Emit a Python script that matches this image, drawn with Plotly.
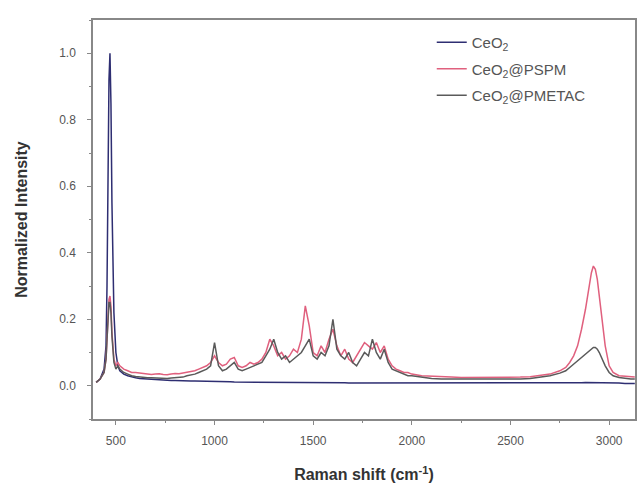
import plotly.graph_objects as go

wavenumber = [400, 420, 440, 450, 455, 460, 465, 470, 475, 480, 490, 500, 510, 520, 540, 560, 580, 600,
              620, 640, 660, 680, 700, 720, 740, 760, 780, 800,
              820, 840, 860, 880, 900, 920, 940, 960, 980, 1000,
              1020, 1040, 1060, 1080, 1100, 1120, 1140, 1160, 1180, 1200,
              1220, 1240, 1260, 1280, 1300, 1320, 1340, 1360, 1380, 1400,
              1420, 1440, 1460, 1480, 1500, 1520, 1540, 1560, 1580, 1600,
              1620, 1640, 1660, 1680, 1700, 1720, 1740, 1760, 1780, 1800,
              1820, 1840, 1860, 1880, 1900, 1920, 1940, 1960, 1980, 2000,
              2050, 2100, 2150, 2200, 2250, 2300, 2350, 2400, 2450, 2500, 2550, 2600, 2650, 2700, 2750,
              2780, 2800, 2820, 2840, 2860, 2880, 2900, 2910, 2920, 2930, 2940, 2950, 2960, 2980, 3000,
              3020, 3050, 3080, 3110, 3130]

ceo2 = [0.01, 0.02, 0.05, 0.12, 0.30, 0.62, 0.92, 1.00, 0.85, 0.55, 0.22, 0.10, 0.06, 0.045, 0.035, 0.03, 0.026, 0.024,
        0.022, 0.021, 0.020, 0.019, 0.018, 0.018, 0.017, 0.017, 0.016, 0.016,
        0.015, 0.015, 0.015, 0.014, 0.014, 0.014, 0.013, 0.013, 0.013, 0.013,
        0.012, 0.012, 0.012, 0.012, 0.011, 0.011, 0.011, 0.011, 0.011, 0.011,
        0.011, 0.010, 0.010, 0.010, 0.010, 0.010, 0.010, 0.010, 0.010, 0.010,
        0.010, 0.010, 0.009, 0.009, 0.009, 0.009, 0.009, 0.009, 0.009, 0.009,
        0.009, 0.009, 0.009, 0.008, 0.008, 0.008, 0.008, 0.008, 0.008, 0.008,
        0.008, 0.008, 0.008, 0.008, 0.008, 0.008, 0.007, 0.007, 0.007, 0.007,
        0.007, 0.007, 0.007, 0.007, 0.007, 0.007, 0.007, 0.007, 0.007, 0.007, 0.007, 0.007, 0.007, 0.008, 0.008,
        0.008, 0.008, 0.009, 0.009, 0.009, 0.010, 0.010, 0.010, 0.010, 0.010, 0.010, 0.010, 0.009, 0.009, 0.008,
        0.008, 0.008, 0.007, 0.007, 0.007]

ceo2_pspm = [0.01, 0.02, 0.04, 0.08, 0.14, 0.22, 0.26, 0.27, 0.24, 0.16, 0.08, 0.06, 0.07, 0.06, 0.05, 0.045, 0.04, 0.04,
             0.038, 0.036, 0.035, 0.034, 0.035, 0.036, 0.034, 0.033, 0.035, 0.037,
             0.036, 0.038, 0.040, 0.042, 0.045, 0.050, 0.055, 0.060, 0.070, 0.090,
             0.070, 0.060, 0.065, 0.080, 0.085, 0.060, 0.055, 0.060, 0.070, 0.065,
             0.070, 0.080, 0.100, 0.140, 0.120, 0.090, 0.100, 0.080, 0.090, 0.110,
             0.100, 0.140, 0.240, 0.180, 0.100, 0.090, 0.120, 0.100, 0.140, 0.170,
             0.120, 0.090, 0.110, 0.080, 0.070, 0.090, 0.110, 0.130, 0.120, 0.110,
             0.130, 0.100, 0.120, 0.080, 0.060, 0.050, 0.045, 0.040, 0.040, 0.035,
             0.030, 0.028, 0.027, 0.026, 0.025, 0.025, 0.024, 0.024, 0.024, 0.025, 0.026, 0.027, 0.030, 0.035, 0.045,
             0.055, 0.070, 0.090, 0.120, 0.170, 0.230, 0.300, 0.340, 0.360, 0.350, 0.320, 0.270, 0.210, 0.120, 0.060,
             0.040, 0.030, 0.028, 0.027, 0.026]

ceo2_pmetac = [0.01, 0.02, 0.04, 0.08, 0.14, 0.21, 0.25, 0.25, 0.22, 0.15, 0.07, 0.05, 0.06, 0.05, 0.04, 0.035, 0.03, 0.028,
               0.026, 0.025, 0.024, 0.024, 0.023, 0.023, 0.022, 0.022, 0.023, 0.024,
               0.025, 0.026, 0.030, 0.032, 0.035, 0.040, 0.045, 0.050, 0.060, 0.130,
               0.060, 0.045, 0.050, 0.060, 0.070, 0.050, 0.045, 0.050, 0.055, 0.060,
               0.065, 0.070, 0.090, 0.110, 0.140, 0.100, 0.080, 0.090, 0.070, 0.080,
               0.090, 0.100, 0.120, 0.140, 0.090, 0.080, 0.100, 0.090, 0.120, 0.200,
               0.110, 0.090, 0.080, 0.100, 0.070, 0.060, 0.080, 0.100, 0.090, 0.140,
               0.100, 0.080, 0.110, 0.070, 0.050, 0.045, 0.040, 0.035, 0.030, 0.030,
               0.025, 0.022, 0.020, 0.020, 0.019, 0.018, 0.018, 0.018, 0.018, 0.019, 0.020, 0.022, 0.025, 0.030, 0.038,
               0.045, 0.055, 0.065, 0.075, 0.085, 0.095, 0.105, 0.110, 0.115, 0.115, 0.110, 0.100, 0.085, 0.060, 0.040,
               0.030, 0.025, 0.022, 0.020, 0.020]

series_names = ["CeO<sub>2</sub>", "CeO<sub>2</sub>@PSPM", "CeO<sub>2</sub>@PMETAC"]
series_values = [ceo2, ceo2_pspm, ceo2_pmetac]
series_colors = ["#2e2e72", "#e0607e", "#5a5a5a"]

x_ticks = [500, 1000, 1500, 2000, 2500, 3000]
y_ticks = [0.0, 0.2, 0.4, 0.6, 0.8, 1.0]

fig = go.Figure()
for i, (name, vals, col) in enumerate(zip(series_names, series_values, series_colors)):
    fig.add_trace(go.Scatter(x=wavenumber, y=vals, mode="lines", name=name,
                             legendgroup=f"g{i}",
                             line=dict(color=col, width=1.5)))

font_family = "Liberation Sans, Arial, sans-serif"
fig.update_layout(
    width=640, height=503,
    margin=dict(l=93, r=3, t=20, b=84),
    paper_bgcolor="white", plot_bgcolor="white",
    font=dict(family=font_family, size=12, color="#555"),
    showlegend=True,
    legend=dict(x=0.625, y=0.985, xanchor="left", yanchor="top",
                bgcolor="rgba(0,0,0,0)", font=dict(size=15, color="#555"),
                traceorder="grouped", tracegroupgap=4),
)
fig.update_xaxes(
    range=[384, 3131], tickvals=x_ticks, ticktext=[str(v) for v in x_ticks],
    showgrid=False, zeroline=False, showline=True, linecolor="#888", linewidth=1.5,
    mirror=True, ticks="outside", ticklen=4, tickcolor="#888", ticklabelstandoff=6,
    minor=dict(ticks="outside", ticklen=2, dtick=250, tickcolor="#888"),
    title=dict(text="<b>Raman shift (cm<sup>-1</sup>)</b>", font=dict(size=16, color="#333"), standoff=22),
    tickfont=dict(size=12, color="#555"),
)
fig.update_yaxes(
    range=[-0.10, 1.10], tickvals=y_ticks, ticktext=[f"{v:.1f}" for v in y_ticks],
    showgrid=False, zeroline=False, showline=True, linecolor="#888", linewidth=1.5,
    mirror=True, ticks="outside", ticklen=4, tickcolor="#888", ticklabelstandoff=9,
    minor=dict(ticks="outside", ticklen=2, dtick=0.1, tickcolor="#888"),
    title=dict(text="<b>Normalized Intensity</b>", font=dict(size=16, color="#333"), standoff=28),
    tickfont=dict(size=12, color="#555"),
)

fig.write_html("out.html")
